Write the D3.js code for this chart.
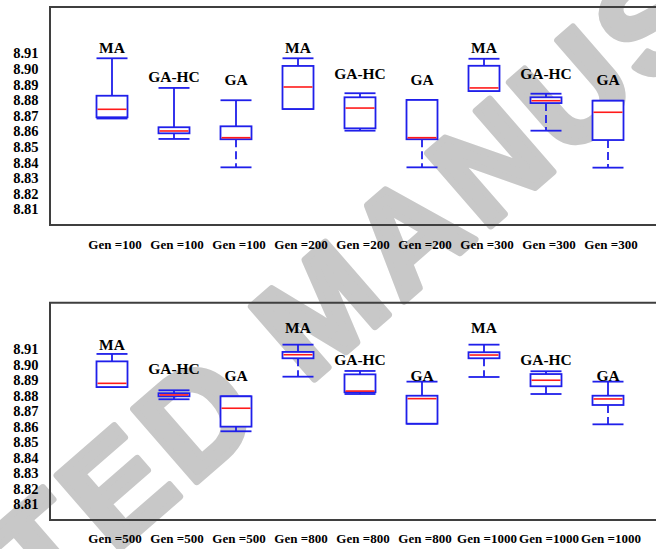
<!DOCTYPE html>
<html>
<head>
<meta charset="utf-8">
<script src="https://cdn.jsdelivr.net/npm/d3@7"></script>
<style>
  html, body { margin: 0; padding: 0; background: #fff; }
  svg { display: block; }
</style>
</head>
<body>
<svg id="chart" width="656" height="549"></svg>
<script>
// ---- data -------------------------------------------------------------
const methods = ["MA", "GA-HC", "GA", "MA", "GA-HC", "GA", "MA", "GA-HC", "GA"];
const genTop = ["Gen =100", "Gen =100", "Gen =100", "Gen =200", "Gen =200", "Gen =200", "Gen =300", "Gen =300", "Gen =300"];
const genBottom = ["Gen =500", "Gen =500", "Gen =500", "Gen =800", "Gen =800", "Gen =800", "Gen =1000", "Gen =1000", "Gen =1000"];
const tickValues = [8.81, 8.82, 8.83, 8.84, 8.85, 8.86, 8.87, 8.88, 8.89, 8.90, 8.91];

// box statistics, generations 100 / 200 / 300
const topLow    = [8.8682, 8.8551, 8.8369, 8.8743, 8.8604, 8.8369, 8.8858, 8.8604, 8.8367];
const topQ1     = [8.8690, 8.8587, 8.8549, 8.8743, 8.8619, 8.8549, 8.8858, 8.8781, 8.8544];
const topMedian = [8.8741, 8.8602, 8.8559, 8.8884, 8.8749, 8.8559, 8.8878, 8.8796, 8.8722];
const topQ3     = [8.8828, 8.8626, 8.8632, 8.9019, 8.8818, 8.8801, 8.9020, 8.8818, 8.8796];
const topHigh   = [8.9068, 8.8878, 8.8799, 8.9068, 8.8844, 8.8801, 8.9065, 8.8841, 8.8796];
const topLabelAt = [8.9100, 8.8914, 8.8897, 8.9100, 8.8935, 8.8897, 8.9100, 8.8935, 8.8897];

// box statistics, generations 500 / 800 / 1000
const bottomLow    = [8.8856, 8.8777, 8.8570, 8.8923, 8.8811, 8.8619, 8.8921, 8.8811, 8.8615];
const bottomQ1     = [8.8856, 8.8796, 8.8600, 8.9042, 8.8822, 8.8619, 8.9042, 8.8861, 8.8740];
const bottomMedian = [8.8880, 8.8805, 8.8719, 8.9065, 8.8830, 8.8781, 8.9063, 8.8900, 8.8779];
const bottomQ3     = [8.9022, 8.8816, 8.8796, 8.9083, 8.8938, 8.8800, 8.9081, 8.8940, 8.8800];
const bottomHigh   = [8.9070, 8.8835, 8.8796, 8.9130, 8.8960, 8.8891, 8.9130, 8.8958, 8.8891];
const bottomLabelAt = [8.9096, 8.8938, 8.8897, 8.9203, 8.8999, 8.8897, 8.9203, 8.8999, 8.8897];

// ---- layout -----------------------------------------------------------
const W = 656, H = 549;
const svg = d3.select("#chart");
const serif = "'Liberation Serif', 'Times New Roman', serif";
const BLUE = "#1f1fea", RED = "#ff1a1a", FRAME = "#3f3f3f";
const boxW = 31;

// background watermark, laid diagonally behind the plots
const wm = svg.append("g")
  .attr("transform", "translate(495,156) rotate(-41)");
wm.append("text")
  .attr("x", -1173)
  .attr("y", 50)
  .attr("font-family", "'Liberation Sans', Arial, sans-serif")
  .attr("font-weight", "bold")
  .attr("font-size", 140)
  .style("letter-spacing", "8px")
  .attr("fill", "#c8c8c8")
  .attr("stroke", "#c8c8c8")
  .attr("stroke-width", 7)
  .attr("stroke-linejoin", "round")
  .text("ACCEPTED MANUSCRIPT");

const x = d3.scalePoint()
  .domain(d3.range(methods.length))
  .range([112, 608]);

function panel(cfg) {
  const y = d3.scaleLinear().domain([8.81, 8.91]).range([cfg.y0, cfg.y1]);
  const g = svg.append("g");

  // frame: left, top and bottom edges
  g.append("path")
    .attr("d", `M${W},${cfg.top}H50V${cfg.bottom}H${W}`)
    .attr("fill", "none")
    .attr("stroke", FRAME)
    .attr("stroke-width", 2);

  // value labels on the left
  const axis = d3.axisLeft(y)
    .tickValues(tickValues)
    .tickFormat(d3.format(".2f"))
    .tickSize(0)
    .tickPadding(0);
  const ax = g.append("g").attr("transform", "translate(38.5,0)").call(axis);
  ax.select(".domain").remove();
  ax.selectAll("text")
    .attr("font-family", serif)
    .attr("font-weight", "bold")
    .attr("font-size", 14.5)
    .attr("fill", "#000");

  const rows = methods.map((m, i) => ({
    i, m,
    lo: cfg.low[i], q1: cfg.q1[i], med: cfg.median[i], q3: cfg.q3[i], hi: cfg.high[i],
    lab: cfg.labelAt[i], gen: cfg.gen[i]
  }));

  const b = g.selectAll("g.box").data(rows).join("g").attr("class", "box");

  // upper whisker (solid)
  b.append("line")
    .attr("x1", d => x(d.i)).attr("x2", d => x(d.i))
    .attr("y1", d => y(d.q3)).attr("y2", d => y(d.hi))
    .attr("stroke", BLUE).attr("stroke-width", 1.8);
  // lower whisker (dashed)
  b.append("line")
    .attr("x1", d => x(d.i)).attr("x2", d => x(d.i))
    .attr("y1", d => y(d.q1)).attr("y2", d => y(d.lo))
    .attr("stroke", BLUE).attr("stroke-width", 1.8)
    .attr("stroke-dasharray", "8,4");
  // whisker caps
  ["hi", "lo"].forEach(k => {
    b.append("line")
      .attr("x1", d => x(d.i) - boxW / 2).attr("x2", d => x(d.i) + boxW / 2)
      .attr("y1", d => y(d[k])).attr("y2", d => y(d[k]))
      .attr("stroke", BLUE).attr("stroke-width", 1.8);
  });
  // box
  b.append("rect")
    .attr("x", d => x(d.i) - boxW / 2)
    .attr("width", boxW)
    .attr("y", d => y(d.q3))
    .attr("height", d => Math.max(0, y(d.q1) - y(d.q3)))
    .attr("fill", "#fff")
    .attr("stroke", BLUE).attr("stroke-width", 1.8);
  // median
  b.append("line")
    .attr("x1", d => x(d.i) - boxW / 2 + 1).attr("x2", d => x(d.i) + boxW / 2 - 1)
    .attr("y1", d => y(d.med)).attr("y2", d => y(d.med))
    .attr("stroke", RED).attr("stroke-width", 1.6);
  // method name above each box
  b.append("text")
    .attr("x", d => x(d.i))
    .attr("y", d => y(d.lab))
    .attr("text-anchor", "middle")
    .attr("font-family", serif)
    .attr("font-weight", "bold")
    .attr("font-size", 15.5)
    .attr("fill", "#000")
    .text(d => d.m);
  // generation label below the panel
  b.append("text")
    .attr("x", d => x(d.i) + 3)
    .attr("y", cfg.genY)
    .attr("text-anchor", "middle")
    .attr("font-family", serif)
    .attr("font-weight", "bold")
    .attr("font-size", 13)
    .attr("fill", "#000")
    .text(d => d.gen);
}

panel({
  top: 7, bottom: 225, y0: 209.3, y1: 53.3, genY: 249,
  low: topLow, q1: topQ1, median: topMedian, q3: topQ3, high: topHigh,
  labelAt: topLabelAt, gen: genTop
});
panel({
  top: 302.7, bottom: 520, y0: 504, y1: 349.3, genY: 543,
  low: bottomLow, q1: bottomQ1, median: bottomMedian, q3: bottomQ3, high: bottomHigh,
  labelAt: bottomLabelAt, gen: genBottom
});
</script>
</body>
</html>
